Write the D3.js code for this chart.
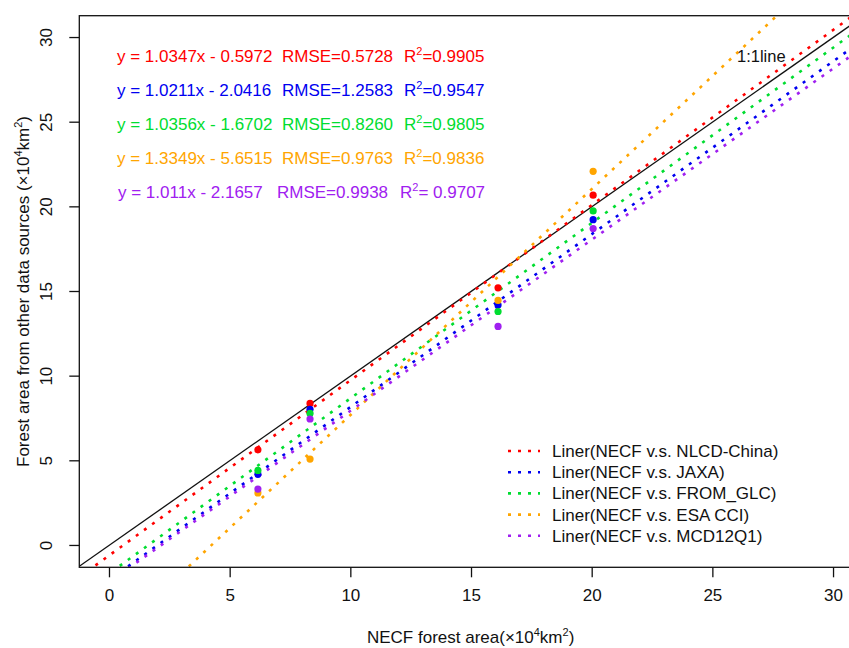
<!DOCTYPE html>
<html>
<head>
<meta charset="utf-8">
<script src="https://cdn.jsdelivr.net/npm/d3@7"></script>
<style>
  body { margin: 0; background: #fff; }
  text { font-family: "Liberation Sans", Arial, sans-serif; }
</style>
</head>
<body>
<div id="chart-area"></div>
<script>
// NECF forest area (x) for the four sample points
var necfArea = [6.17, 8.33, 16.12, 20.06];

// other data sources (y)
var nlcdChina = [5.65, 8.39, 15.22, 20.69];
var jaxa      = [4.2, 8.04, 14.2, 19.24];
var fromGlc   = [4.43, 7.8, 13.82, 19.76];
var esaCci    = [3.1, 5.1, 14.47, 22.1];
var mcd12q1   = [3.33, 7.47, 12.94, 18.72];

var seriesNames = ["NLCD-China", "JAXA", "FROM_GLC", "ESA CCI", "MCD12Q1"];
var seriesColors = ["#ff0000", "#0000f0", "#00dd30", "#ffa500", "#a020f0"];

// fitted lines
var slopes     = [1.0347, 1.0211, 1.0356, 1.3349, 1.011];
var intercepts = [-0.5972, -2.0416, -1.6702, -5.6515, -2.1657];
var slopeText  = ["1.0347", "1.0211", "1.0356", "1.3349", "1.011"];
var interText  = ["0.5972", "2.0416", "1.6702", "5.6515", "2.1657"];
var rmseText   = ["0.5728", "1.2583", "0.8260", "0.9763", "0.9938"];
var r2Text     = ["0.9905", "0.9547", "0.9805", "0.9836", " 0.9707"];

var xTicks = [0, 5, 10, 15, 20, 25, 30];
var yTicks = [0, 5, 10, 15, 20, 25, 30];

var allSeries = [nlcdChina, jaxa, fromGlc, esaCci, mcd12q1];

var svgWidth = 849, svgHeight = 648;
var fs = 17;

var svg = d3.select("#chart-area").append("svg")
    .attr("width", svgWidth)
    .attr("height", svgHeight)
    .style("display", "block");

var xScale = d3.scaleLinear().domain([-1.23, 31.2]).range([79.3, 862]);
var yScale = d3.scaleLinear().domain([-1.29, 31.29]).range([567.3, 15.7]);

var x0 = xScale.range()[0], x1 = xScale.range()[1];
var y0 = yScale.range()[1], y1 = yScale.range()[0];

svg.append("clipPath").attr("id", "plot-clip")
    .append("rect")
    .attr("x", x0).attr("y", y0)
    .attr("width", x1 - x0).attr("height", y1 - y0);

var plot = svg.append("g").attr("clip-path", "url(#plot-clip)");

// 1:1 line
var xd = xScale.domain();
plot.append("line")
    .attr("x1", xScale(xd[0])).attr("y1", yScale(xd[0]))
    .attr("x2", xScale(xd[1])).attr("y2", yScale(xd[1]))
    .attr("stroke", "#111")
    .attr("stroke-width", 1.3);

// regression lines
slopes.forEach(function(b, i) {
    var a = intercepts[i];
    plot.append("line")
        .attr("x1", xScale(xd[0])).attr("y1", yScale(b * xd[0] + a))
        .attr("x2", xScale(xd[1])).attr("y2", yScale(b * xd[1] + a))
        .attr("stroke", seriesColors[i])
        .attr("stroke-width", 2.6)
        .attr("stroke-dasharray", "3,7");
});

// points
allSeries.forEach(function(vals, i) {
    plot.selectAll(".pt" + i)
        .data(vals)
        .enter().append("circle")
        .attr("class", "pt" + i)
        .attr("cx", function(d, j) { return xScale(necfArea[j]); })
        .attr("cy", function(d) { return yScale(d); })
        .attr("r", 3.6)
        .attr("fill", seriesColors[i]);
});

// box
svg.append("rect")
    .attr("x", x0).attr("y", y0)
    .attr("width", x1 - x0).attr("height", y1 - y0)
    .attr("fill", "none")
    .attr("stroke", "#111")
    .attr("stroke-width", 1.3);

// axes
var botAxis = d3.axisBottom(xScale).tickValues(xTicks).tickSize(10).tickPadding(12);
var gx = svg.append("g")
    .attr("transform", "translate(0," + y1 + ")")
    .call(botAxis);
gx.select(".domain").remove();
gx.selectAll("line").attr("stroke", "#111").attr("stroke-width", 1.3);
gx.selectAll("text").attr("font-size", fs).attr("fill", "#111")
    .style("font-family", "'Liberation Sans', Arial, sans-serif");

var leftAxis = d3.axisLeft(yScale).tickValues(yTicks).tickSize(10).tickPadding(0);
var gy = svg.append("g")
    .attr("transform", "translate(" + x0 + ",0)")
    .call(leftAxis);
gy.select(".domain").remove();
gy.selectAll("line").attr("stroke", "#111").attr("stroke-width", 1.3);
gy.selectAll("text")
    .attr("font-size", fs).attr("fill", "#111")
    .style("font-family", "'Liberation Sans', Arial, sans-serif")
    .attr("x", null).attr("dy", null)
    .attr("text-anchor", "middle")
    .attr("transform", function(d) { return "translate(-27," + yScale(d) + ") rotate(-90)"; })
    .attr("y", 0);
gy.selectAll(".tick").attr("transform", null);
gy.selectAll(".tick line")
    .attr("transform", function(d) { return "translate(0," + yScale(d) + ")"; });

// axis titles
var xt = svg.append("text")
    .attr("x", (x0 + x1) / 2)
    .attr("y", 643)
    .attr("text-anchor", "middle")
    .attr("font-size", fs)
    .attr("fill", "#111");
xt.append("tspan").text("NECF forest area(×10");
xt.append("tspan").attr("font-size", 11).attr("dy", -7).text("4");
xt.append("tspan").attr("dy", 7).text("km");
xt.append("tspan").attr("font-size", 11).attr("dy", -7).text("2");
xt.append("tspan").attr("dy", 7).text(")");

var yt = svg.append("text")
    .attr("transform", "translate(29," + (y0 + y1) / 2 + ") rotate(-90)")
    .attr("text-anchor", "middle")
    .attr("font-size", fs)
    .attr("fill", "#111");
yt.append("tspan").text("Forest area from other data sources (×10");
yt.append("tspan").attr("font-size", 11).attr("dy", -7).text("4");
yt.append("tspan").attr("dy", 7).text("km");
yt.append("tspan").attr("font-size", 11).attr("dy", -7).text("2");
yt.append("tspan").attr("dy", 7).text(")");

// 1:1 label
svg.append("text")
    .attr("x", 737).attr("y", 62)
    .attr("font-size", 16.5)
    .attr("fill", "#111")
    .text("1:1line");

// equations
var eqX1 = [117, 117, 117, 117, 118];
var eqX2 = [282, 282, 282, 282, 277];
var eqX3 = [404, 404, 404, 404, 400];
slopeText.forEach(function(s, i) {
    var by = 62 + i * 34;
    var g = svg.append("g").attr("fill", seriesColors[i]).attr("font-size", fs);
    g.append("text").attr("x", eqX1[i]).attr("y", by)
        .text("y = " + s + "x - " + interText[i]);
    g.append("text").attr("x", eqX2[i]).attr("y", by)
        .text("RMSE=" + rmseText[i]);
    var r = g.append("text").attr("x", eqX3[i]).attr("y", by);
    r.append("tspan").text("R");
    r.append("tspan").attr("font-size", 11).attr("dy", -7).text("2");
    r.append("tspan").attr("dy", 7).text("=" + r2Text[i]);
});

// legend
seriesNames.forEach(function(name, i) {
    var cy = 451 + i * 21.2;
    svg.append("line")
        .attr("x1", 508).attr("x2", 540)
        .attr("y1", cy).attr("y2", cy)
        .attr("stroke", seriesColors[i])
        .attr("stroke-width", 2.6)
        .attr("stroke-dasharray", "3,7");
    svg.append("text")
        .attr("x", 552).attr("y", cy + 6)
        .attr("font-size", fs)
        .attr("fill", "#111")
        .text("Liner(NECF v.s. " + name + ")");
});
</script>
</body>
</html>
